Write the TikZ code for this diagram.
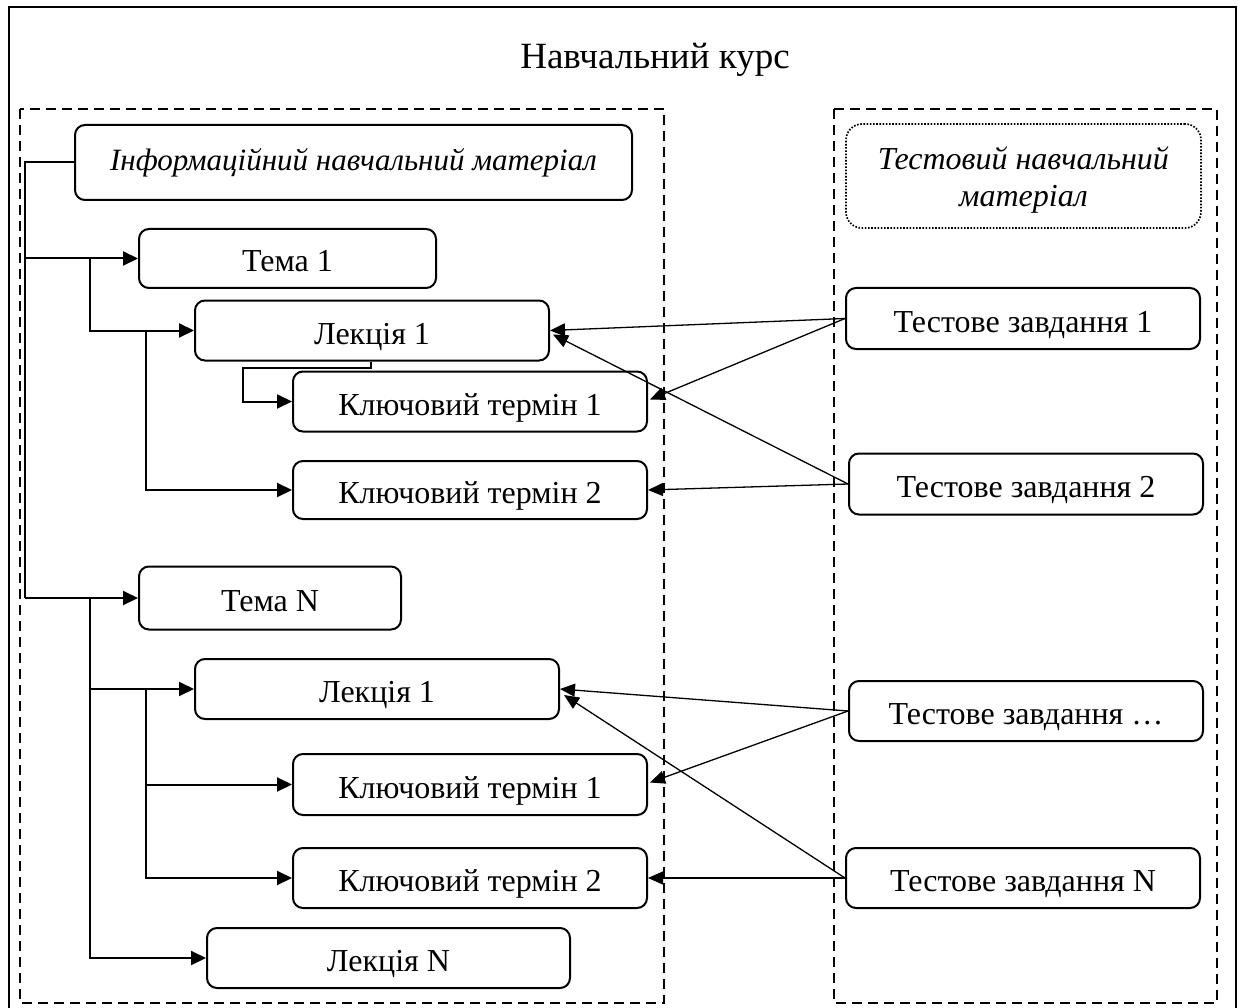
\documentclass[tikz,border=0pt]{standalone}
\usepackage{fontspec}
\setmainfont{Liberation Serif}
\usetikzlibrary{arrows.meta,calc}
\begin{document}
\begin{tikzpicture}[x=1pt,y=-1pt,
  box/.style={draw,line width=2pt,rounded corners=10pt,inner sep=0pt,
    font=\fontsize{32}{36}\selectfont,text height=27pt,text depth=0pt},
  infobox/.style={draw,line width=2pt,rounded corners=10pt,inner sep=0pt,
    font=\fontsize{31}{36}\selectfont\itshape},
  dotbox/.style={draw,line width=1.7pt,dash pattern=on 1.6pt off 1.6pt,rounded corners=16pt,inner sep=0pt},
  dottext/.style={inner sep=0pt,font=\fontsize{32}{37}\selectfont\itshape,align=center},
  frame/.style={line width=2pt},
  dbox/.style={line width=2.5pt,dash pattern=on 10pt off 6pt},
  tree/.style={line width=2pt,-{Triangle[length=15pt,width=14pt]}},
  treeline/.style={line width=2pt},
  thinl/.style={line width=1.2pt},
  link/.style={line width=1.3pt,-{Triangle[length=15pt,width=13pt]}}
]
\useasboundingbox (0,0) rectangle (1239,1008);
\draw[frame] (9,7) rectangle (1236,1012);
\node[font=\fontsize{37}{40}\selectfont] (title) at (655,60) {Навчальний курс};
\draw[dbox] (20,109) rectangle (664,1003);
\draw[dbox] (834,109) rectangle (1217,1003);

% left nodes
\node[infobox,minimum width=557pt,minimum height=75pt] (info) at (353.5,162.5) {Інформаційний навчальний матеріал};
\node[box,minimum width=297pt,minimum height=59pt] (tema1) at (287.5,258.5) {Тема 1};
\node[box,minimum width=354pt,minimum height=60pt] (lek1a) at (372,330.5) {Лекція 1};
\node[box,minimum width=354pt,minimum height=60pt] (kt1a) at (470,401.5) {Ключовий термін 1};
\node[box,minimum width=354pt,minimum height=58pt] (kt2a) at (470,490) {Ключовий термін 2};
\node[box,minimum width=262pt,minimum height=63pt] (temaN) at (270,598) {Тема N};
\node[box,minimum width=364pt,minimum height=60pt] (lek1b) at (377,689) {Лекція 1};
\node[box,minimum width=354pt,minimum height=61pt] (kt1b) at (470,784.5) {Ключовий термін 1};
\node[box,minimum width=354pt,minimum height=60pt] (kt2b) at (470,878) {Ключовий термін 2};
\node[box,minimum width=363pt,minimum height=60pt] (lekN) at (388.5,958) {Лекція N};

% right nodes
\node[dotbox,minimum width=355pt,minimum height=104pt] (test) at (1023.5,176) {};
\node[dottext] (testtxt) at ($(test.center)+(0,4)$) {Тестовий навчальний\\матеріал};
\node[box,minimum width=354pt,minimum height=61pt] (tz1) at (1023,318.5) {Тестове завдання 1};
\node[box,minimum width=354pt,minimum height=61pt] (tz2) at (1026,484) {Тестове завдання 2};
\node[box,minimum width=354pt,minimum height=60pt] (tz3) at (1026,711) {Тестове завдання …};
\node[box,minimum width=354pt,minimum height=60pt] (tzN) at (1023,878) {Тестове завдання N};

% tree connectors
\coordinate (trunk) at ($(info.west)+(-49,0)$);
\draw[treeline] (info.west) -- (trunk) -- (trunk |- temaN.west);
\draw[tree] (trunk |- tema1.west) -- (tema1.west);
\draw[tree] (trunk |- temaN.west) -- (temaN.west);

\coordinate (s1) at ($(tema1.west)+(-48,0)$);
\draw[tree] (s1) |- (lek1a.west);
\coordinate (s2) at ($(lek1a.west)+(-48,0)$);
\draw[tree] (s2) |- (kt2a.west);
\draw[tree] ($(lek1a.south west)+(177,0)$) -- ++(0,6) -| ($(kt1a.west)+(-49,0)$) -- (kt1a.west);

\coordinate (sN) at ($(temaN.west)+(-48,0)$);
\draw[tree] (sN) |- (lekN.west);
\coordinate (s3) at ($(lek1b.west)+(-48,0)$);
\draw[thinl] (sN |- lek1b.west) -- (s3);
\draw[tree] (s3) -- (lek1b.west);
\draw[tree] (s3) |- (kt1b.west);
\draw[tree] (s3) |- (kt2b.west);

% links
\draw[link] (tz1.west) -- (lek1a.east);
\draw[link] (tz1.west) -- ($(kt1a.east)+(2,-2)$);
\draw[link] (tz2.west) -- ($(lek1a.east)+(3,4)$);
\draw[link] (tz2.west) -- (kt2a.east);
\draw[link] (tz3.west) -- (lek1b.east);
\draw[link] (tz3.west) -- ($(kt1b.east)+(2,-2)$);
\draw[link] (tzN.west) -- ($(lek1b.east)+(4,6)$);
\draw[link] (tzN.west) -- (kt2b.east);
\end{tikzpicture}
\end{document}
